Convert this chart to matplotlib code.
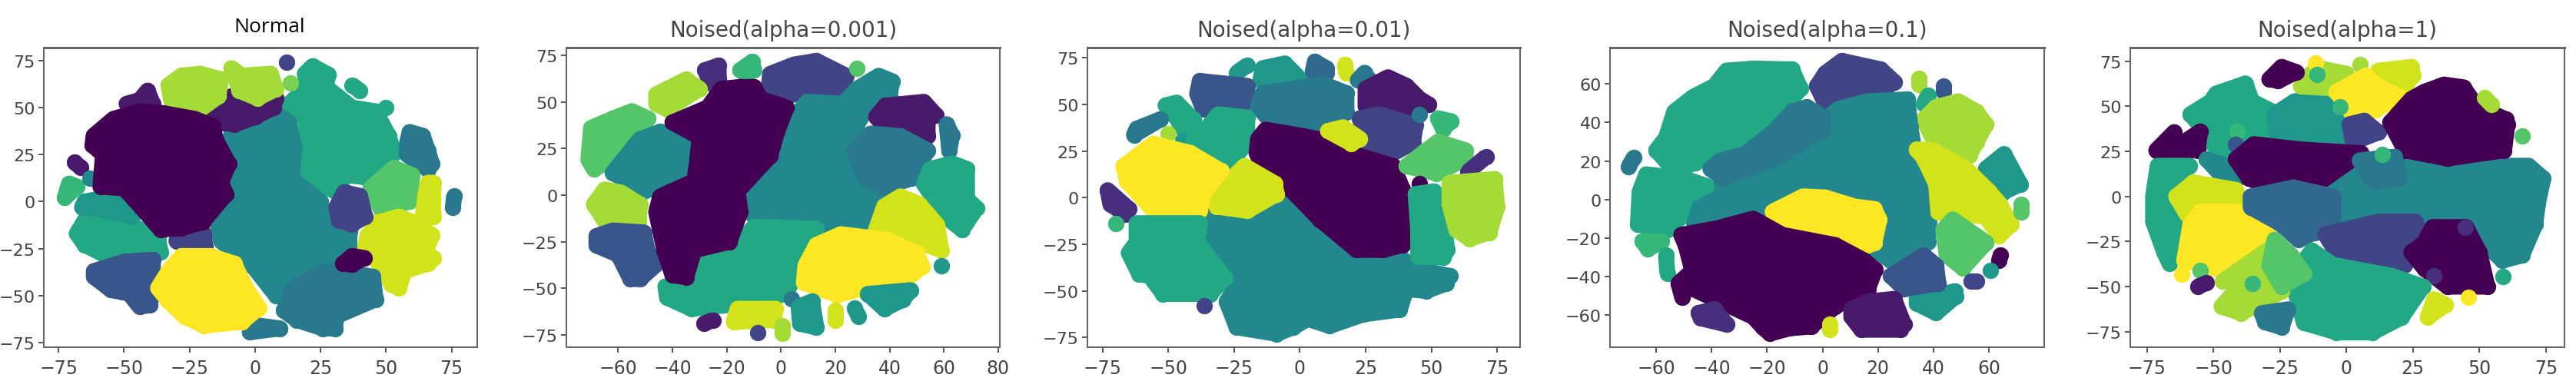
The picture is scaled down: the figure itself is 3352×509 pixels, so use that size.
# -*- coding: utf-8 -*-
import matplotlib
matplotlib.use('Agg')
import matplotlib.pyplot as plt

# each cluster: (class label, outline points)
normal = [
    (9, [(22,72),(28,67.5),(27,61),(37,50),(46,48),(51,35),(53,26),(42,13),(35,14),(30,6),(19,14),(21,29),(19,44),(13,52),(20,61),(19,68)]),
    (9, [(37,62),(40,59)]),
    (9, [(50,50)]),
    (7, [(-9,36),(-2,40),(8,47),(13,42),(15,29),(14,12),(25,0),(26,-10),(36,-16),(36,-26),(27,-31),(14,-40),(8,-50),(-1,-34),(-8,-27),(-13,-21),(-14,-13),(-7,1),(-8,11),(-10,20),(-10,31)]),
    (1, [(-49,52),(-44,54),(-41,59),(-39,52),(-45,50)]),
    (1, [(-19,46),(-12,50),(-9,56),(0,52),(8,55),(7,50),(0,45),(-8,41),(-12,42),(-16,44)]),
    (13, [(-33,62),(-28,67),(-21,68),(-13,65),(-14,56),(-21,49),(-29,48),(-32,54)]),
    (13, [(-9,71),(-5,67),(6,68),(8,60),(1,55),(-6,59),(-7,64)]),
    (3, [(12,74)]),
    (12, [(13.5,63)]),
    (6, [(59,37),(64,35),(66,27),(67.5,20),(66,17),(58,25),(58,31)]),
    (11, [(53,18),(60,14),(59,0),(48,-4),(44,7)]),
    (14, [(66,10),(68,10),(68,-8),(64,-8),(65,3)]),
    (6, [(76,3),(75.5,-3)]),
    (14, [(55,-8),(62,-12),(67.5,-18),(65,-27),(68,-30),(66,-33),(57,-37),(55,-46),(52,-44),(48,-34),(42,-25),(43,-18),(47,-11)]),
    (3, [(34,5),(40,3),(42,-8),(37,-12),(32,-10),(31,-3)]),
    (6, [(26,-37.5),(32,-37),(45,-40),(46,-52),(31,-61),(30.5,-67.5),(26,-67.5),(16,-63),(11,-58),(14,-47)]),
    (6, [(-2,-69.5),(9.5,-67.5),(1.5,-66)]),
    (0, [(33.6,-33),(37,-29),(41.6,-30),(37,-33.5)]),
    (9, [(-65,-10),(-55,-10),(-45,-14),(-37,-20),(-36,-27),(-50,-29),(-56.5,-29),(-65,-23),(-68,-17)]),
    (8, [(-65,0),(-53,3),(-47,-8),(-60,-4),(-66,-3)]),
    (4, [(-50,-32),(-39,-31),(-39,-42),(-40,-55),(-44,-56),(-48,-49),(-55,-47),(-61.5,-40),(-61.5,-37)]),
    (3, [(-30,-21),(-19.5,-17),(-19,-24),(-24.5,-24)]),
    (15, [(-28,-29),(-17,-29),(-8,-33),(-3.5,-46),(1.5,-56.6),(-5,-64),(-19.5,-66),(-27,-61),(-33,-53),(-37,-46),(-33,-37)]),
    (10, [(-71,9.5),(-68,8),(-72.6,2)]),
    (1, [(-69,21),(-66.4,18)]),
    (7, [(-63,12.5)]),
    (0, [(-44,48),(-54,44),(-61.6,35),(-62,30),(-58,25),(-59,8),(-50,7),(-46,1),(-36,-15),(-28,-14),(-20,-11),(-11,4),(-13,10),(-10,20),(-15,33),(-16,40),(-23,44),(-35,47)]),
]

noised_001 = [
    (2, [(-28,67),(-23,69.5),(-23,62.6),(-26,60)]),
    (10, [(-15,67),(-10.7,71.5),(-10,67),(-13,65)]),
    (3, [(-4,65),(4.7,70),(13,72),(24,64),(22.5,55),(9.6,56),(0,52),(-4.5,58)]),
    (11, [(28,68)]),
    (7, [(36,64),(41,61),(40,53.6),(32,47),(28,38),(25,27),(29,9),(36,0.7),(29,-16.5),(17,-16),(-7,-15),(-11,-10),(-14,-2),(-15.6,5),(-6,14),(1,35),(9.6,50),(23,49),(28,57)]),
    (13, [(-46,54),(-35,62),(-30,57),(-42,46),(-46,49)]),
    (11, [(-55,45),(-49,41),(-55.5,28),(-65,17),(-69,14),(-71,19),(-70,36),(-62,41)]),
    (7, [(-44.5,34),(-36,27),(-33,10),(-50.6,2),(-62,12),(-52,30)]),
    (13, [(-65,3),(-59,1.4),(-52,-5),(-52.5,-14),(-65,-14),(-69,-5)]),
    (4, [(-68,-22),(-62,-19),(-50.6,-20),(-49,-31),(-45,-36),(-52,-45),(-55.5,-45),(-60,-32),(-68,-27)]),
    (9, [(-10,-17),(13,-18),(8,-32),(2,-53),(-16,-58.5),(-33,-61),(-42,-55),(-42.6,-49),(-30,-46),(-27,-29.6),(-15,-25)]),
    (0, [(-15,58),(-10,58),(-7.6,51.6),(2,47),(-1.5,34),(-4,21),(-16,2),(-15,-9),(-19,-25),(-32,-29.6),(-35,-44),(-40,-43),(-43,-29.6),(-46,-9),(-44.5,-0.7),(-32,7.5),(-31,17),(-30,31),(-40,39),(-27,47),(-22,57)]),
    (1, [(38.5,48),(52.6,50),(57,43),(54,40.6),(54,31.6),(45,35),(38,36.5),(35,42)]),
    (6, [(33,33),(44,31.6),(54,24),(48,9),(38,4),(30.5,10),(27,24)]),
    (6, [(61,38),(63,32),(62,24)]),
    (9, [(63,17),(68.5,14),(68.5,-2),(72,-7),(66.7,-18.6),(61,-12),(52.6,6),(55,14)]),
    (14, [(44,-0.7),(51,-5),(57.5,-16),(59,-29.6),(51,-25),(35,-18.6),(38,-6)]),
    (15, [(22,-21),(39,-24),(50,-31),(52,-38.5),(46.4,-44.7),(33,-49),(20.6,-53.6),(8.4,-46.8),(9,-37.8),(13,-26.8)]),
    (8, [(59,-38)]),
    (6, [(4,-55.7)]),
    (8, [(11.4,-57),(13,-71),(7,-69),(6.5,-60)]),
    (14, [(-16,-61),(-2,-61),(-2.7,-67),(-17.4,-68)]),
    (1, [(-28.5,-69),(-25,-67)]),
    (3, [(-8.6,-73.6)]),
    (13, [(0.4,-70),(0.4,-74)]),
    (14, [(20,-62),(20,-67)]),
    (8, [(27,-60.5),(28.6,-65)]),
    (8, [(32,-53),(47.7,-51),(45,-56),(38,-61)]),
]

noised_01 = [
    (8, [(-14,69.5),(-5.7,72),(0.6,63),(-15,63)]),
    (8, [(-24,67),(-20,71)]),
    (5, [(5.7,73),(10,69.5),(10,66.7),(5,68)]),
    (14, [(17,71.5),(17.7,66.7)]),
    (6, [(24.6,67),(22,63),(26,64)]),
    (1, [(33.5,64.6),(40.5,60),(45.5,53),(49,50),(41.7,47.5),(31.6,49.5),(25,49),(25,58.5)]),
    (4, [(-38,62.6),(-20,60),(-20,51.6),(-36.7,47.5),(-39,55.7)]),
    (6, [(-14,56),(9,61),(17.7,56),(17.7,46),(6,38),(-10,39),(-16,49)]),
    (9, [(-51,49.5),(-46.8,51),(-40.5,42),(-43,33.7),(-49,47.5)]),
    (6, [(-63,33.7),(-53,42),(-62,37)]),
    (13, [(-50,34.4)]),
    (8, [(-44.5,30.7)]),
    (9, [(-31,44.7),(-20,43),(-20,29.6),(-26.5,18.6),(-34,25.4),(-40.5,30),(-35,38)]),
    (3, [(30,44.7),(44,39),(43,29.6),(34,22.7),(26.5,22.7),(25,31),(22.8,42.6)]),
    (6, [(45.5,44.7)]),
    (10, [(52.5,42.6),(57.5,41),(54.4,37)]),
    (7, [(-33,-9),(-5,-3.4),(19,-31),(36.7,-29.6),(43,-38),(57,-42),(55.6,-46),(48,-50),(40.5,-49),(38,-60),(24,-62.6),(11.4,-68.8),(3,-65),(-2.5,-69.5),(-8.8,-73),(-24,-69.5),(-27.8,-55.7),(-22.8,-44.7),(-27.8,-31),(-33.5,-24)]),
    (0, [(-13,36.5),(-1.3,33.7),(8.8,31),(19,24),(35.4,17),(39,4.8),(39,-25.4),(31.6,-28),(21.5,-28),(16.4,-22),(7.6,-11.7),(-3.8,4.8),(-14,15.8),(-16.4,24),(-15.8,31.6)]),
    (14, [(10.7,35.8),(16.4,37.8),(22.8,31.6),(19.6,29)]),
    (14, [(-21,17),(-9.5,7.6),(-8.8,2),(-20,-7),(-31.6,-4.8),(-31,3.4)]),
    (15, [(-55.6,29),(-41.7,24),(-30,14.4),(-36.7,2),(-38,-7),(-55.6,-7),(-65.7,9),(-67,17)]),
    (11, [(52.5,30),(63,25.4),(63,21),(52,13),(40.5,17),(46.8,24)]),
    (2, [(63.8,13.8),(70.8,22)]),
    (0, [(45.5,7.6)]),
    (9, [(51,3.4),(54.4,-10),(56,-28),(54.4,-32),(45,-31.6),(45,-17),(44,2)]),
    (13, [(56.9,8),(74,10),(75,-5),(72,-18.6),(64.5,-22),(59.4,-17),(56.9,-3.4)]),
    (2, [(-73,4),(-65,-6),(-66.4,-9),(-72,-3.4)]),
    (10, [(-70,-13.7)]),
    (9, [(-62,-13.7),(-38,-13.7),(-39,-24),(-28.4,-43),(-34,-51.6),(-52,-51.6),(-57,-42),(-61,-41),(-65,-29.6),(-62,-24)]),
    (3, [(-36.3,-58)]),
]

noised_1 = [
    (9, [(-25,68),(-11,67.6),(-8,57.6),(-17,41.6),(-27.5,27),(-41.7,23),(-46,19),(-53.5,15),(-60,25.6),(-56.5,32),(-53.5,45.6),(-47,53),(-39,59),(-34.6,67)]),
    (3, [(7,72),(21,67.6),(26,61),(18.7,55),(4.5,51),(1,49.6),(-2,59),(1,65.6)]),
    (13, [(34.7,63),(34.7,59.6)]),
    (4, [(43.6,59),(43.6,56)]),
    (9, [(38,54),(36.5,49.6)]),
    (13, [(49,51),(55.5,45.6),(59,39),(55.5,29.6),(53,23),(41,28),(36.5,41.6),(41,48)]),
    (7, [(30.6,52),(31.7,37.6),(34,17.6),(39,-2.4),(38,-22),(31,-30),(24.6,-31.7),(19.3,-26.4),(21,-10),(-5,1.6),(-21.6,-5),(-38,-11.7),(-46.4,-11.7),(-46,-2.4),(-36,8),(-15.6,23),(5.7,47),(16,51)]),
    (6, [(-5.6,48),(0,43),(0,36),(-17,21.6),(-36,11),(-40.5,16),(-37,20),(-27.5,24),(-17,36),(-11,45.6)]),
    (6, [(-68,22),(-70,17)]),
    (9, [(-63.6,13),(-50,11),(-42,7),(-49,1.6),(-52,-10),(-56,-15.7),(-66.6,-13),(-66,4)]),
    (10, [(-65,-21.7),(-58,-21.7),(-63,-25.7)]),
    (9, [(-56.5,-29),(-56,-38.4)]),
    (15, [(-7,1.6),(1,1),(11.6,-3.7),(18.7,-5),(20.5,-10.4),(18.7,-22.4),(12,-27),(7,-22.4),(-2.6,-17.7),(-13,-15),(-18,-6.4)]),
    (0, [(-51,-18.4),(-38,-15),(-25,-10),(-14.5,-18.4),(4.5,-23.7),(15,-31.7),(19,-36.4),(16.4,-46.4),(4.5,-55.7),(-4,-66),(-12,-67),(-19,-69.7),(-21.6,-66.4),(-25,-61),(-49,-45),(-50.6,-51),(-52,-43.7),(-47,-37),(-49.4,-23.7)]),
    (8, [(65.5,23.6),(71.4,8),(65,3.6),(59,16)]),
    (14, [(34,26),(40,25.6),(52,15.6),(60,4.3),(64,-2.4),(68,-13),(63.7,-19),(59,-9),(41.8,-6.4),(41,8),(36.5,21.6)]),
    (11, [(71.8,-2.4),(71.8,-6.4)]),
    (11, [(47,-10.4),(59,-22.4),(50.7,-35.7),(44.8,-29),(43.6,-15.7)]),
    (0, [(64.3,-29),(63.7,-31.7)]),
    (8, [(60.5,-37)]),
    (3, [(53.7,-42.4),(55.5,-42.4)]),
    (8, [(34,-50.4),(44,-49),(47.7,-47.7),(48,-50.4),(41,-59),(34,-54)]),
    (4, [(36.5,-29),(41,-34.4),(41.8,-43.7),(29.4,-46.4),(24.6,-39.7)]),
    (1, [(16.4,-53),(25.8,-51.7),(29.4,-65),(28,-67.7),(14,-67.7),(10.4,-61),(10.4,-57)]),
    (14, [(2.7,-67.7),(2.7,-65)]),
    (2, [(-44.7,-59),(-39,-57),(-34.6,-65),(-44,-61.7)]),
]

noised_10 = [
    (9, [(-38,62.6),(-35.5,52.6),(-25,45),(-25,30),(-47.7,25.6),(-51,30),(-56,41),(-58.7,45.5),(-51,52.6),(-49,57)]),
    (10, [(-41,36)]),
    (8, [(-12,55),(-3.7,48),(-3.7,30),(-25.7,30),(-27,45.5),(-19.6,52.6)]),
    (13, [(-10,71),(0,68),(-2.4,59.7),(-17,61),(-13.4,68)]),
    (15, [(-11.6,74)]),
    (0, [(-24.4,71.8),(-19,69),(-25.7,64),(-29,65)]),
    (10, [(-11,67.6)]),
    (13, [(5,73)]),
    (14, [(12,69.7),(24.4,71.8),(25,67),(22,61)]),
    (15, [(7.3,67),(12,61),(19.6,55.5),(11,48),(1.2,48),(-3.7,58)]),
    (10, [(-2.4,49.8)]),
    (3, [(6.7,42),(12,35.5),(2.4,30),(1.2,40)]),
    (7, [(23,20),(38,18.5),(60,17),(68.5,17),(74,10),(72,-4),(71,-15.6),(66,-32.7),(58.7,-35.5),(52.6,-27),(47.7,-14),(29.3,-12.8),(12,-14),(-7.3,-17),(-11,0),(-3.7,14),(5,18.5)]),
    (0, [(36.7,62),(44,60.5),(49,49.8),(60,42.7),(60.5,40),(59.3,25.6),(38,21),(22,25.6),(16.5,41),(24.4,54),(29.3,58)]),
    (13, [(52,54.8),(54.4,51)]),
    (11, [(66,33.4)]),
    (0, [(-71.5,25.6),(-64.8,35.6),(-63.6,27.7),(-55,36),(-56,25.6)]),
    (4, [(-41.6,29)]),
    (7, [(-52.6,20.6),(-45,17),(-41.6,9),(-47.7,12.8)]),
    (0, [(-34.8,29),(-17,26),(5.5,24),(-12,5.7),(-25.7,3.6),(-36.7,10),(-41.6,20.6)]),
    (6, [(5,20),(18,22),(20,10),(10,8)]),
    (10, [(13.4,23.5)]),
    (9, [(-71,17),(-59,17),(-68.5,0),(-63,-12.8),(-64,-27),(-66.6,-37),(-68.5,-31),(-72.7,-14),(-72.7,0)]),
    (14, [(-57.5,7.8),(-41.6,3.6),(-39,-5.7),(-60,-10),(-64,0)]),
    (15, [(-55,-8.5),(-34,-8.5),(-27.5,-12),(-34,-32.7),(-46.5,-41),(-61,-35.5),(-58.7,-15.6)]),
    (15, [(-62,-43)]),
    (11, [(-55,-41)]),
    (1, [(-56,-50),(-52.6,-48)]),
    (5, [(-36,0),(-20,5),(-5,0),(-5,-15),(-12,-20),(-18,-24),(-25,-15),(-36,-6)]),
    (3, [(-8,-21),(12,-14),(26,-14),(28,-22),(22,-38),(17,-42),(8,-38),(-3,-33)]),
    (0, [(32.4,-17),(45,-17),(50,-31),(53,-50),(38,-50),(29.3,-40),(24.4,-31),(29.3,-25.6)]),
    (2, [(44.6,-17)]),
    (2, [(33,-44)]),
    (9, [(59,-44.4)]),
    (15, [(46,-56)]),
    (14, [(33,-57),(37.3,-60),(30.6,-67)]),
    (9, [(-13,-30),(-5,-38),(17,-44),(28.7,-50),(20.8,-67),(9.8,-75.4),(-3.7,-75.4),(-16,-70),(-19,-54),(-18,-40)]),
    (13, [(-25.7,-25.6),(-46.5,-47),(-33,-41),(-24.4,-52.6),(-33,-59.7),(-39.7,-64.7),(-47,-61)]),
    (11, [(-20.8,-32.7),(-16,-42.7),(-24.4,-50),(-29,-38.4),(-27,-24)]),
    (10, [(-35.4,-48.4)]),
    (6, [(-31.8,-64.7),(-22,-62.6),(-24.4,-72.5),(-30.6,-69.7)]),
]

titles = ['Normal', 'Noised(alpha=0.001)', 'Noised(alpha=0.01)', 'Noised(alpha=0.1)', 'Noised(alpha=1)']
panels = [normal, noised_001, noised_01, noised_1, noised_10]
xticks = [[-75,-50,-25,0,25,50,75], [-60,-40,-20,0,20,40,60,80], [-75,-50,-25,0,25,50,75], [-60,-40,-20,0,20,40,60], [-75,-50,-25,0,25,50,75]]
yticks = [[-75,-50,-25,0,25,50,75], [-75,-50,-25,0,25,50,75], [-75,-50,-25,0,25,50,75], [-60,-40,-20,0,20,40,60], [-75,-50,-25,0,25,50,75]]
xlims = [(-80.6,84.8), (-79.1,80.6), (-80.7,83.7), (-76.7,80), (-81.3,82)]
ylims = [(-77.5,81.9), (-81.6,79.1), (-80.2,80.5), (-76.8,78.9), (-83.6,82.5)]

W, H = 3352, 510
boxes = [(57,621), (737,1301), (1415,1978), (2095,2660), (2772,3337)] # axes left/right in px
top, bottom = 63, 453

fig = plt.figure(figsize=(W/100, H/100), dpi=100)
cmap = plt.get_cmap('viridis')

for i in range(5):
    x0, x1 = boxes[i]
    ax = fig.add_axes([x0/W, 1-bottom/H, (x1-x0)/W, (bottom-top)/H])
    for label, pts in panels[i]:
        xs = [p[0] for p in pts]
        ys = [p[1] for p in pts]
        color = cmap(label/15)
        if len(pts) > 1:
            ax.fill(xs, ys, facecolor=color, edgecolor=color, lw=15, joinstyle='round')
        ax.scatter(xs, ys, color=color, s=235, linewidths=0)
    ax.set_xlim(xlims[i])
    ax.set_ylim(ylims[i])
    ax.set_xticks(xticks[i])
    ax.set_yticks(yticks[i])
    ax.tick_params(axis='x', labelsize=17, length=5, width=1.4, color='#555555', labelcolor='#444444', pad=6)
    ax.tick_params(axis='y', labelsize=16, length=5, width=1.4, color='#555555', labelcolor='#444444', pad=3)
    for s in ax.spines.values():
        s.set_color('#666666')
        s.set_linewidth(1.5)
    ax.spines['top'].set_linewidth(2.2)
    if i == 0:
        ax.set_title(titles[i], fontsize=19, color='black', family='Open Sans', x=0.52, pad=15)
    else:
        ax.set_title(titles[i], fontsize=20, color='#444444', pad=11)

fig.savefig('out.png', dpi=100)
